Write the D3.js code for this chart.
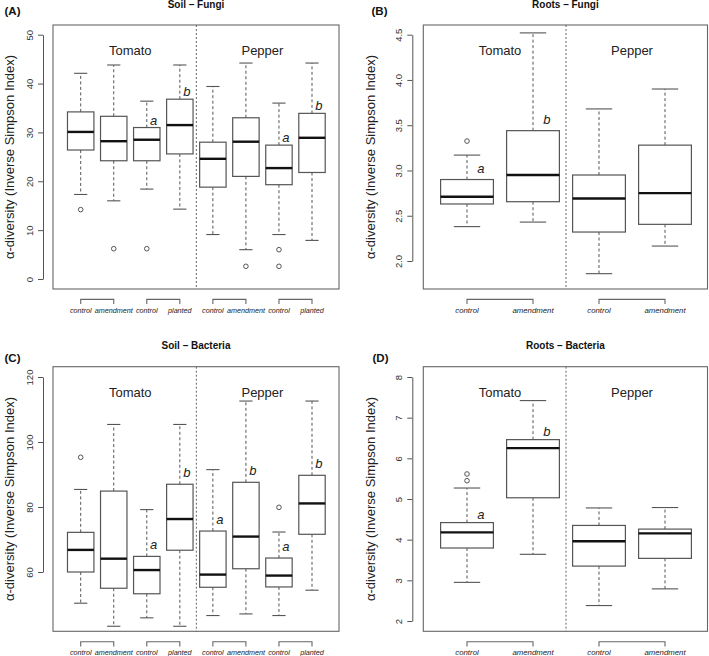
<!DOCTYPE html>
<html><head><meta charset="utf-8">
<script src="https://cdn.jsdelivr.net/npm/d3@7"></script>
<style>
body{margin:0;background:#fff}
svg{display:block;font-family:"Liberation Sans",Arial,Helvetica,sans-serif}
</style>
</head><body>
<svg id="chart" width="709" height="656"></svg>
<script>
// ---------------- DATA ----------------
const soilCategories  = ["control","amendment","control","planted","control","amendment","control","planted"];
const rootCategories  = ["control","amendment","control","amendment"];
const groupLabels     = ["Tomato","Pepper"];

// (A) Soil – Fungi
const soilFungiTicks   = [0,10,20,30,40,50];
const soilFungiHigh    = [42.1, 43.8, 36.4, 43.8, 39.4, 44.2, 36.0, 44.2];
const soilFungiQ3      = [34.2, 33.3, 31.0, 36.8, 28.0, 33.0, 27.4, 33.9];
const soilFungiMedian  = [30.1, 28.2, 28.5, 31.5, 24.6, 28.1, 22.7, 28.9];
const soilFungiQ1      = [26.4, 24.2, 24.2, 25.6, 18.8, 21.0, 19.3, 21.8];
const soilFungiLow     = [17.3, 16.0, 18.4, 14.3, 9.1, 6.0, 9.1, 7.9];
const soilFungiOut     = [[14.2],[6.2],[6.2],[],[],[2.6],[6.0,2.6],[]];
const soilFungiLetters = ["","","a","b","","","a","b"];

// (B) Roots – Fungi
const rootFungiTicks   = [2.0,2.5,3.0,3.5,4.0,4.5];
const rootFungiHigh    = [3.17, 4.52, 3.68, 3.90];
const rootFungiQ3      = [2.90, 3.44, 2.95, 3.28];
const rootFungiMedian  = [2.71, 2.95, 2.69, 2.75];
const rootFungiQ1      = [2.63, 2.655, 2.32, 2.405];
const rootFungiLow     = [2.38, 2.43, 1.86, 2.165];
const rootFungiOut     = [[3.325],[],[],[]];
const rootFungiLetters = ["a","b","",""];

// (C) Soil – Bacteria
const soilBactTicks    = [60,80,100,120];
const soilBactHigh     = [85.4, 105.4, 79.2, 105.4, 91.5, 112.6, 72.3, 112.6];
const soilBactQ3       = [72.2, 84.9, 64.8, 87.0, 72.6, 87.6, 64.3, 89.75];
const soilBactMedian   = [66.8, 64.1, 60.6, 76.3, 59.2, 70.9, 58.9, 81.1];
const soilBactQ1       = [60.0, 55.0, 53.3, 66.7, 55.3, 61.0, 55.4, 71.6];
const soilBactLow      = [50.4, 43.3, 45.9, 43.3, 46.6, 47.1, 46.6, 54.4];
const soilBactOut      = [[95.3],[],[],[],[],[],[79.9],[]];
const soilBactLetters  = ["","","a","b","a","b","a","b"];

// (D) Roots – Bacteria
const rootBactTicks    = [2,3,4,5,6,7,8];
const rootBactHigh     = [5.27, 7.42, 4.78, 4.79];
const rootBactQ3       = [4.42, 6.46, 4.35, 4.26];
const rootBactMedian   = [4.18, 6.25, 3.96, 4.155];
const rootBactQ1       = [3.795, 5.03, 3.35, 3.54];
const rootBactLow      = [2.95, 3.64, 2.38, 2.79];
const rootBactOut      = [[5.615, 5.45],[],[],[]];
const rootBactLetters  = ["a","b","",""];

// ---------------- LAYOUT ----------------
const panels = [
  {tag:"(A)", tagX:4.5, tagY:15, title:"Soil – Fungi", cats:soilCategories,
   high:soilFungiHigh, q3:soilFungiQ3, med:soilFungiMedian, q1:soilFungiQ1, low:soilFungiLow, out:soilFungiOut, letters:soilFungiLetters,
   ticks:soilFungiTicks, fmt:d3.format("d"),
   frame:{l:53,r:339,t:25,b:289}, axisX:43, yPx:[279,34.7], xPx:[80.7,312],
   letterOff:7.5, labelFs:7.2, yLabelX:9},
  {tag:"(B)", tagX:371.5, tagY:15, title:"Roots – Fungi", cats:rootCategories,
   high:rootFungiHigh, q3:rootFungiQ3, med:rootFungiMedian, q1:rootFungiQ1, low:rootFungiLow, out:rootFungiOut, letters:rootFungiLetters,
   ticks:rootFungiTicks, fmt:d3.format(".1f"),
   frame:{l:423.3,r:707.5,t:25,b:289}, axisX:412.3, yPx:[261,34.7], xPx:[467,665],
   letterOff:11, labelFs:7.8, yLabelX:370.5},
  {tag:"(C)", tagX:4.5, tagY:361.7, title:"Soil – Bacteria", cats:soilCategories,
   high:soilBactHigh, q3:soilBactQ3, med:soilBactMedian, q1:soilBactQ1, low:soilBactLow, out:soilBactOut, letters:soilBactLetters,
   ticks:soilBactTicks, fmt:d3.format("d"),
   frame:{l:53,r:339,t:366.7,b:631.3}, axisX:43, yPx:[572,377], xPx:[80.7,312],
   letterOff:11.5, labelFs:7.2, yLabelX:9},
  {tag:"(D)", tagX:372.5, tagY:361.7, title:"Roots – Bacteria", cats:rootCategories,
   high:rootBactHigh, q3:rootBactQ3, med:rootBactMedian, q1:rootBactQ1, low:rootBactLow, out:rootBactOut, letters:rootBactLetters,
   ticks:rootBactTicks, fmt:d3.format("d"),
   frame:{l:423.3,r:707.5,t:366.7,b:631.3}, axisX:412.3, yPx:[621,377], xPx:[467,665],
   letterOff:8.5, labelFs:7.8, yLabelX:370.5}
];

const svg = d3.select("#chart");
const LINE = "#555";

panels.forEach(p => {
  const n = p.cats.length;
  const g = svg.append("g");
  const x = d3.scaleLinear().domain([1, n]).range(p.xPx);
  const y = d3.scaleLinear().domain([p.ticks[0], p.ticks[p.ticks.length-1]]).range(p.yPx);
  const step = x(2) - x(1);
  const bw = step * 0.8, cap = step * 0.4;
  const F = p.frame;
  const idx = d3.range(n);

  // frame
  g.append("rect").attr("x",F.l).attr("y",F.t).attr("width",F.r-F.l).attr("height",F.b-F.t)
    .attr("fill","none").attr("stroke","#666").attr("stroke-width",1.1);

  // separator
  g.append("line").attr("x1",x((n+1)/2)).attr("x2",x((n+1)/2)).attr("y1",F.t).attr("y2",F.b)
    .attr("stroke","#666").attr("stroke-width",1).attr("stroke-dasharray","2,2");

  // y axis
  const ax = g.append("g").attr("transform",`translate(${p.axisX},0)`)
    .call(d3.axisLeft(y).tickValues(p.ticks).tickFormat(p.fmt).tickSizeInner(5).tickSizeOuter(0));
  ax.select(".domain").attr("stroke",LINE);
  ax.selectAll(".tick line").attr("stroke",LINE);
  ax.selectAll(".tick text").attr("transform","rotate(-90)").attr("x",0).attr("y",-14).attr("dy",null)
    .attr("text-anchor","middle").attr("dominant-baseline","central")
    .attr("font-size",9.5).attr("fill","#333").attr("font-family","Liberation Sans, Arial, sans-serif");

  // y label
  g.append("text").attr("transform",`translate(${p.yLabelX},${(F.t+F.b)/2}) rotate(-90)`)
    .attr("text-anchor","middle").attr("dominant-baseline","central")
    .attr("font-size",13).attr("fill","#222")
    .text("α-diversity (Inverse Simpson Index)");

  // title & tag
  g.append("text").attr("x",(F.l+F.r)/2).attr("y",F.t-17.5).attr("text-anchor","middle")
    .attr("font-size",10).attr("font-weight","bold").attr("fill","#111").text(p.title);
  g.append("text").attr("x",p.tagX).attr("y",p.tagY).attr("font-size",11.5).attr("font-weight","bold")
    .attr("fill","#111").text(p.tag);

  // group labels
  groupLabels.forEach((lab,k) => {
    const c = k === 0 ? (1 + n/2)/2 : (n/2 + 1 + n)/2;
    g.append("text").attr("x",x(c)).attr("y",F.t+25.7).attr("text-anchor","middle")
      .attr("dominant-baseline","central").attr("font-size",13).attr("fill","#222").text(lab);
  });

  // whiskers
  idx.forEach(i => {
    const cx = x(i+1);
    g.append("line").attr("x1",cx).attr("x2",cx).attr("y1",y(p.q3[i])).attr("y2",y(p.high[i]))
      .attr("stroke",LINE).attr("stroke-dasharray","3,2.5");
    g.append("line").attr("x1",cx).attr("x2",cx).attr("y1",y(p.q1[i])).attr("y2",y(p.low[i]))
      .attr("stroke",LINE).attr("stroke-dasharray","3,2.5");
    [p.high[i], p.low[i]].forEach(v => {
      g.append("line").attr("x1",cx-cap/2).attr("x2",cx+cap/2).attr("y1",y(v)).attr("y2",y(v))
        .attr("stroke",LINE).attr("stroke-width",1.1);
    });
  });

  // boxes
  g.selectAll("rect.box").data(idx).enter().append("rect").attr("class","box")
    .attr("x",i => x(i+1)-bw/2).attr("width",bw)
    .attr("y",i => y(p.q3[i])).attr("height",i => y(p.q1[i]) - y(p.q3[i]))
    .attr("fill","#fff").attr("stroke",LINE).attr("stroke-width",1.2);
  g.selectAll("line.med").data(idx).enter().append("line").attr("class","med")
    .attr("x1",i => x(i+1)-bw/2).attr("x2",i => x(i+1)+bw/2)
    .attr("y1",i => y(p.med[i])).attr("y2",i => y(p.med[i]))
    .attr("stroke","#111").attr("stroke-width",2.4);

  // outliers
  idx.forEach(i => {
    p.out[i].forEach(v => {
      g.append("circle").attr("cx",x(i+1)).attr("cy",y(v)).attr("r",2.3)
        .attr("fill","none").attr("stroke",LINE).attr("stroke-width",1);
    });
  });

  // letters
  idx.forEach(i => {
    if (!p.letters[i]) return;
    g.append("text").attr("x",x(i+1.21)).attr("y",y(p.q3[i]) - p.letterOff)
      .attr("text-anchor","middle").attr("dominant-baseline","central")
      .attr("font-size",13).attr("font-style","italic").attr("fill","#222").text(p.letters[i]);
  });

  // brackets and category labels
  for (let k = 0; k < n; k += 2) {
    const x1 = x(k+1), x2 = x(k+2), by = F.b + 10.4;
    g.append("path").attr("d",`M${x1},${by+4.7}V${by}H${x2}V${by+4.7}`)
      .attr("fill","none").attr("stroke","#666").attr("stroke-width",1.1);
  }
  idx.forEach(i => {
    g.append("text").attr("x",x(i+1)).attr("y",F.b+24).attr("text-anchor","middle")
      .attr("font-size",p.labelFs).attr("font-style","italic").attr("fill","#222").text(p.cats[i]);
  });
});
</script>
</body></html>
